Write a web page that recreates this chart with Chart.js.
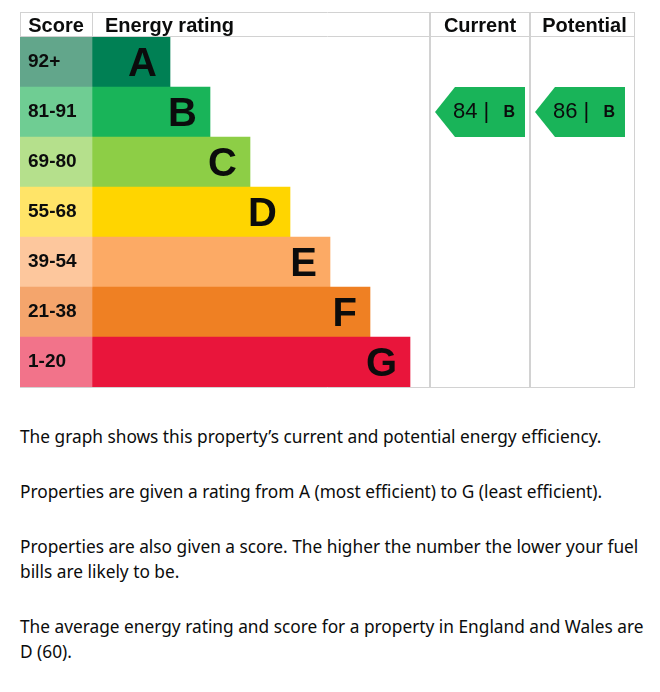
<!DOCTYPE html>
<html>
<head>
<meta charset="utf-8">
<script src="https://cdn.jsdelivr.net/npm/chart.js@4/dist/chart.umd.min.js"></script>
<style>
  html, body { margin: 0; padding: 0; background: #fff; }
  body { width: 660px; height: 692px; position: relative; overflow: hidden; }
  #wrap { position: absolute; left: 0; top: 0; width: 660px; height: 400px; }
  #text { position: absolute; left: 20px; top: 424px; width: 640px;
          font-family: "Noto Sans", sans-serif; font-size: 17.3px; color: #0b0c0c; line-height: 25px; }
  #text p { margin: 0 0 30px 0; white-space: nowrap; }
  #text span { display: block; }
</style>
</head>
<body>
<div id="wrap"><canvas id="c" width="660" height="400"></canvas></div>
<div id="text">
  <p>The graph shows this property’s current and potential energy efficiency.</p>
  <p>Properties are given a rating from A (most efficient) to G (least efficient).</p>
  <p><span>Properties are also given a score. The higher the number the lower your fuel</span><span>bills are likely to be.</span></p>
  <p><span>The average energy rating and score for a property in England and Wales are</span><span>D (60).</span></p>
</div>
<script>
// ---- data ----
const ratings = ['A', 'B', 'C', 'D', 'E', 'F', 'G'];
const scoreBands = ['92+', '81-91', '69-80', '55-68', '39-54', '21-38', '1-20'];
const bandMin = [92, 81, 69, 55, 39, 21, 1];
const scoreColumn = [72, 72, 72, 72, 72, 72, 72];
const barLengths = [78, 118, 158, 198, 238, 278, 318];
const barColors = ['#008054', '#19b459', '#8dce46', '#ffd500', '#fcaa65', '#ef8023', '#e9153b'];
const scoreColors = ['#62a68b', '#6fcd93', '#b5e08c', '#ffe468', '#fdc79d', '#f4a56c', '#f2738a'];
const columnEdges = [0, 72, 410, 510, 615]; // score | energy rating | current | potential
const headers = ['Score', 'Energy rating', 'Current', 'Potential'];
const currentScore = 84;
const potentialScore = 86;
const arrowLength = 90;

function bandIndex(score) {
  for (let i = 0; i < bandMin.length; i++) if (score >= bandMin[i]) return i;
  return bandMin.length - 1;
}

const LINE = '#d2d2d2';

const epcPlugin = {
  id: 'epc',
  afterDatasetsDraw(chart) {
    const ctx = chart.ctx;
    const xs = chart.scales.x;
    const area = chart.chartArea;
    const top = area.top - 25;
    const px = v => xs.getPixelForValue(v);
    ctx.save();
    // header texts
    ctx.fillStyle = '#0b0c0c';
    ctx.textBaseline = 'middle';
    ctx.font = 'bold 20px "Liberation Sans", Arial, sans-serif';
    const hy = (top + area.top) / 2 + 1.5;
    ctx.textAlign = 'center';
    ctx.fillText(headers[0], (px(columnEdges[0]) + px(columnEdges[1])) / 2, hy);
    ctx.textAlign = 'left';
    ctx.fillText(headers[1], px(columnEdges[1]) + 13, hy);
    ctx.textAlign = 'center';
    ctx.fillText(headers[2], (px(columnEdges[2]) + px(columnEdges[3])) / 2, hy);
    ctx.fillText(headers[3], (px(columnEdges[3]) + px(columnEdges[4])) / 2 + 2, hy);

    // lines
    ctx.strokeStyle = LINE;
    ctx.lineWidth = 1;
    const hline = (x1, x2, y) => { ctx.beginPath(); ctx.moveTo(x1, y + 0.5); ctx.lineTo(x2, y + 0.5); ctx.stroke(); };
    const vline = (x, y1, y2) => { ctx.beginPath(); ctx.moveTo(x + 0.5, y1); ctx.lineTo(x + 0.5, y2); ctx.stroke(); };
    hline(area.left, area.right, top);
    hline(area.left, area.right, area.top - 1);
    hline(area.left, area.right, area.bottom);
    vline(area.left, top, area.top);
    vline(px(columnEdges[1]), top, area.top);
    ctx.lineWidth = 2;
    vline(px(columnEdges[2]) - 0.5, top, area.bottom);
    vline(px(columnEdges[3]) - 0.5, top, area.bottom);
    ctx.lineWidth = 1;
    vline(area.right - 1, top, area.bottom);

    // score labels and letters
    const metaS = chart.getDatasetMeta(0);
    const metaR = chart.getDatasetMeta(1);
    metaS.data.forEach((el, i) => {
      ctx.font = 'bold 19px "Liberation Sans", Arial, sans-serif';
      ctx.textAlign = 'left';
      ctx.fillStyle = '#0b0c0c';
      ctx.fillText(scoreBands[i], px(columnEdges[0]) + 8, el.y);
    });
    metaR.data.forEach((el, i) => {
      ctx.font = 'bold 40px "Liberation Sans", Arial, sans-serif';
      ctx.textAlign = 'right';
      ctx.fillStyle = '#0b0c0c';
      ctx.fillText(ratings[i], el.x - 13, el.y + 3);
    });

    // arrows
    const drawArrow = (score, c0) => {
      const bi = bandIndex(score);
      const el = metaR.data[bi];
      const h = el.height;
      const yc = el.y;
      const x0 = px(c0 + 5), x1 = px(c0 + 5 + arrowLength);
      ctx.fillStyle = barColors[bi];
      ctx.beginPath();
      ctx.moveTo(x0, yc);
      ctx.lineTo(x0 + h / 2 - 5, yc - h / 2);
      ctx.lineTo(x1, yc - h / 2);
      ctx.lineTo(x1, yc + h / 2);
      ctx.lineTo(x0 + h / 2 - 5, yc + h / 2);
      ctx.closePath();
      ctx.fill();
      ctx.fillStyle = '#0b0c0c';
      ctx.textAlign = 'left';
      ctx.font = '22px "Liberation Sans", Arial, sans-serif';
      ctx.fillText(score + ' |', x0 + 18, yc);
      ctx.font = 'bold 16px "Liberation Sans", Arial, sans-serif';
      ctx.textAlign = 'right';
      ctx.fillText(ratings[bi], x1 - 10, yc + 1);
    };
    drawArrow(currentScore, columnEdges[2]);
    drawArrow(potentialScore, columnEdges[3]);
    ctx.restore();
  }
};

new Chart(document.getElementById('c'), {
  type: 'bar',
  data: {
    labels: ratings,
    datasets: [
      { data: scoreColumn, backgroundColor: scoreColors, borderWidth: 0 },
      { data: barLengths, backgroundColor: barColors, borderWidth: 0 }
    ]
  },
  options: {
    indexAxis: 'y',
    responsive: false,
    animation: false,
    devicePixelRatio: 1,
    layout: { padding: { left: 20, right: 25, top: 37, bottom: 13 } },
    datasets: { bar: { barPercentage: 1, categoryPercentage: 1 } },
    scales: {
      x: { display: false, stacked: true, min: 0, max: columnEdges[columnEdges.length - 1] },
      y: { display: false, stacked: true }
    },
    plugins: { legend: { display: false }, tooltip: { enabled: false } }
  },
  plugins: [epcPlugin]
});
</script>
</body>
</html>
